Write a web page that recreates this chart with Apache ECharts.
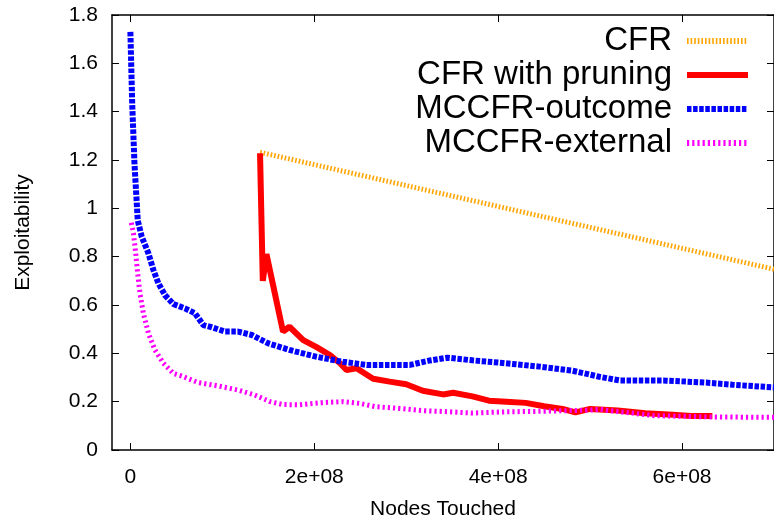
<!DOCTYPE html>
<html>
<head>
<meta charset="utf-8">
<script src="https://cdn.jsdelivr.net/npm/echarts@6/dist/echarts.min.js"></script>
<style>
html,body{margin:0;padding:0;background:#fff;}
#chart{width:774px;height:517px;}
</style>
</head>
<body>
<div id="chart"></div>
<script>
// ---- data ----
const seriesNames = ['CFR', 'CFR with pruning', 'MCCFR-outcome', 'MCCFR-external'];

const xTickValues = [0, 2e8, 4e8, 6e8];
const xTickLabels = ['0', '2e+08', '4e+08', '6e+08'];

const cfrX = [1.41e8, 7.0e8];
const cfrY = [1.232, 0.748];

const pruneX = [1.41e8, 1.44e8, 1.48e8, 1.66e8, 1.73e8, 1.88e8, 2.02e8, 2.17e8, 2.28e8, 2.35e8, 2.46e8, 2.64e8,
  2.82e8, 3.0e8, 3.18e8, 3.4e8, 3.51e8, 3.72e8, 3.9e8, 4.09e8, 4.3e8, 4.5e8, 4.7e8, 4.84e8, 5.0e8, 5.3e8,
  5.6e8, 5.9e8, 6.1e8, 6.33e8];
const pruneY = [1.228, 0.70, 0.81, 0.49, 0.51, 0.455, 0.427, 0.393, 0.359, 0.331, 0.338, 0.295,
  0.283, 0.272, 0.245, 0.23, 0.237, 0.222, 0.204, 0.2, 0.195, 0.181, 0.17, 0.156, 0.17, 0.163,
  0.152, 0.146, 0.141, 0.141];

const outcomeX = [0, 2.0e6, 4.5e6, 6.5e6, 8e6, 1.23e7, 1.96e7, 2.5e7, 3.04e7, 3.76e7, 4.67e7, 5.93e7, 7.02e7,
  7.93e7, 8.84e7, 1.03e8, 1.17e8, 1.32e8, 1.5e8, 1.73e8, 2.02e8, 2.31e8, 2.57e8, 2.82e8, 3.04e8,
  3.25e8, 3.45e8, 3.72e8, 4.05e8, 4.45e8, 4.81e8, 5.1e8, 5.32e8, 5.83e8, 6.26e8, 6.55e8, 7.0e8];
const outcomeY = [1.73, 1.43, 1.18, 1.05, 0.95, 0.883, 0.814, 0.745, 0.69, 0.641, 0.604, 0.586, 0.566,
  0.517, 0.508, 0.49, 0.49, 0.476, 0.441, 0.414, 0.386, 0.365, 0.352, 0.352, 0.352,
  0.37, 0.382, 0.371, 0.36, 0.345, 0.328, 0.303, 0.288, 0.287, 0.279, 0.27, 0.259];

const externalX = [1e6, 3.3e6, 5.8e6, 7.9e6, 1.04e7, 1.41e7, 1.96e7, 2.67e7, 3.59e7, 4.67e7, 5.58e7, 7.39e7,
  9.57e7, 1.17e8, 1.35e8, 1.52e8, 1.66e8, 1.84e8, 2.09e8, 2.31e8, 2.49e8, 2.67e8, 2.93e8, 3.18e8,
  3.47e8, 3.72e8, 4.09e8, 4.45e8, 5.0e8, 5.1e8, 5.4e8, 5.7e8, 6.3e8, 7.0e8];
const externalY = [0.94, 0.897, 0.814, 0.731, 0.648, 0.566, 0.483, 0.414, 0.359, 0.317, 0.306, 0.279,
  0.265, 0.248, 0.228, 0.2, 0.188, 0.187, 0.196, 0.2, 0.193, 0.179, 0.172, 0.163,
  0.158, 0.153, 0.158, 0.16, 0.165, 0.168, 0.155, 0.142, 0.137, 0.135];

// ---- chart ----
function zip(xs, ys) { return xs.map((x, i) => [x, ys[i]]); }

const FONT = "'Liberation Sans', Arial, Helvetica, sans-serif";
const chart = echarts.init(document.getElementById('chart'), null, {renderer: 'canvas'});

const axisLine = {show: true, onZero: false, lineStyle: {color: '#000', width: 1.5}};
const tickIn = {show: true, inside: true, length: 7, lineStyle: {color: '#000', width: 1}};

chart.setOption({
  animation: false,
  backgroundColor: '#fff',
  grid: {left: 112, right: 0, top: 15, bottom: 67, containLabel: false, outerBoundsMode: 'none'},
  xAxis: [{
    type: 'value', position: 'bottom', min: -2e7, max: 7e8,
    splitLine: {show: false},
    axisLine: axisLine,
    axisTick: Object.assign({}, tickIn, {customValues: xTickValues}),
    axisLabel: {
      customValues: xTickValues, margin: 17, fontSize: 21, color: '#000', fontFamily: FONT,
      formatter: v => xTickLabels[xTickValues.indexOf(v)]
    },
    name: 'Nodes Touched', nameLocation: 'middle', nameGap: 49,
    nameTextStyle: {fontSize: 21, color: '#000', fontFamily: FONT}
  }, {
    type: 'value', position: 'top', min: -2e7, max: 7e8,
    splitLine: {show: false},
    axisLine: axisLine,
    axisTick: Object.assign({}, tickIn, {customValues: xTickValues}),
    axisLabel: {show: false}
  }],
  yAxis: [{
    type: 'value', position: 'left', min: 0, max: 1.8, interval: 0.2,
    splitLine: {show: false},
    axisLine: axisLine,
    axisTick: tickIn,
    axisLabel: {margin: 14, fontSize: 21, color: '#000', fontFamily: FONT},
    name: 'Exploitability', nameLocation: 'middle', nameGap: 78, nameRotate: 90,
    nameTextStyle: {fontSize: 21, color: '#000', fontFamily: FONT}
  }, {
    type: 'value', position: 'right', min: 0, max: 1.8, interval: 0.2,
    splitLine: {show: false},
    axisLine: axisLine,
    axisTick: tickIn,
    axisLabel: {show: false}
  }],
  legend: {
    orient: 'vertical', align: 'right', right: 23, top: 24, padding: 0,
    itemWidth: 61, itemHeight: 14, itemGap: 0, selectedMode: false,
    data: seriesNames,
    textStyle: {fontSize: 33, color: '#000', fontFamily: FONT, lineHeight: 34, padding: [0, 10, 0, 0]},
    lineStyle: {width: 6},
    itemStyle: {opacity: 0}
  },
  series: [{
    name: seriesNames[0], type: 'line', symbol: 'none', data: zip(cfrX, cfrY),
    lineStyle: {color: '#FFA500', width: 5, type: [1.6, 2], cap: 'butt'},
    itemStyle: {color: '#FFA500'}
  }, {
    name: seriesNames[1], type: 'line', symbol: 'none', data: zip(pruneX, pruneY),
    lineStyle: {color: '#FF0000', width: 6, type: 'solid', cap: 'butt', join: 'bevel'},
    itemStyle: {color: '#FF0000'}
  }, {
    name: seriesNames[2], type: 'line', symbol: 'none', data: zip(outcomeX, outcomeY),
    lineStyle: {color: '#0000FF', width: 6, type: [4.5, 1.6], cap: 'butt'},
    itemStyle: {color: '#0000FF'}
  }, {
    name: seriesNames[3], type: 'line', symbol: 'none', data: zip(externalX, externalY),
    lineStyle: {color: '#FF00FF', width: 5, type: [2.2, 3], cap: 'butt'},
    itemStyle: {color: '#FF00FF'}
  }]
});
</script>
</body>
</html>
